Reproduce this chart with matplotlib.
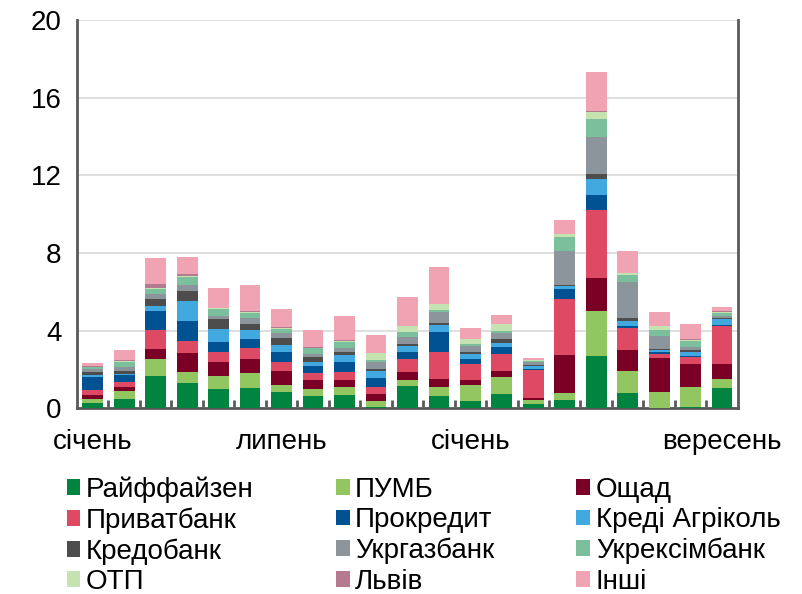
import matplotlib
matplotlib.use("Agg")
import matplotlib.pyplot as plt
import numpy as np

plt.rcParams['font.family'] = ['Liberation Sans', 'DejaVu Sans']

months = ["січень", "", "", "", "", "", "липень", "", "", "", "", "",
          "січень", "", "", "", "", "", "", "", "вересень"]

banks = ["Райффайзен", "ПУМБ", "Ощад", "Приватбанк", "Прокредит", "Креді Агріколь",
         "Кредобанк", "Укргазбанк", "Укрексімбанк", "ОТП", "Львів", "Інші"]

raif      = [0.24, 0.46, 1.66, 1.30, 0.99, 1.05, 0.84, 0.63, 0.67, 0.05, 1.13, 0.63, 0.38, 0.74, 0.21, 0.41, 2.68, 0.79, 0.02, 0.05, 1.03]
pumb      = [0.22, 0.40, 0.86, 0.55, 0.67, 0.75, 0.34, 0.33, 0.41, 0.31, 0.31, 0.47, 0.80, 0.87, 0.19, 0.35, 2.33, 1.13, 0.82, 1.02, 0.45]
oschad    = [0.24, 0.22, 0.55, 0.97, 0.71, 0.72, 0.73, 0.47, 0.35, 0.38, 0.40, 0.38, 0.26, 0.28, 0.11, 1.97, 1.72, 1.07, 1.72, 1.20, 0.79]
privat    = [0.21, 0.26, 0.95, 0.65, 0.51, 0.59, 0.47, 0.39, 0.42, 0.33, 0.67, 1.39, 0.83, 0.88, 1.45, 2.88, 3.47, 1.16, 0.22, 0.34, 1.95]
procredit = [0.70, 0.34, 0.97, 1.01, 0.55, 0.46, 0.52, 0.33, 0.55, 0.49, 0.39, 1.06, 0.24, 0.37, 0.08, 0.52, 0.80, 0.07, 0.10, 0.06, 0.05]
credi     = [0.07, 0.07, 0.26, 1.03, 0.64, 0.48, 0.34, 0.22, 0.35, 0.35, 0.28, 0.34, 0.26, 0.22, 0.12, 0.17, 0.83, 0.26, 0.14, 0.23, 0.30]
kredo     = [0.17, 0.17, 0.35, 0.55, 0.50, 0.29, 0.35, 0.27, 0.12, 0.08, 0.13, 0.14, 0.13, 0.18, 0.05, 0.05, 0.26, 0.14, 0.05, 0.09, 0.05]
ukrgaz    = [0.14, 0.21, 0.27, 0.27, 0.17, 0.28, 0.29, 0.14, 0.24, 0.39, 0.36, 0.55, 0.29, 0.31, 0.16, 1.73, 1.88, 1.88, 0.64, 0.17, 0.12]
ukrexim   = [0.11, 0.27, 0.26, 0.43, 0.37, 0.29, 0.22, 0.31, 0.32, 0.09, 0.26, 0.09, 0.09, 0.13, 0.06, 0.74, 0.95, 0.35, 0.34, 0.31, 0.14]
otp       = [0.03, 0.05, 0.05, 0.03, 0.03, 0.03, 0.03, 0.03, 0.03, 0.35, 0.29, 0.31, 0.27, 0.35, 0.04, 0.14, 0.37, 0.12, 0.17, 0.05, 0.08]
lviv      = [0.05, 0.03, 0.24, 0.14, 0.02, 0.05, 0.03, 0.03, 0.03, 0.03, 0.03, 0.03, 0.03, 0.03, 0.02, 0.03, 0.03, 0.02, 0.02, 0.02, 0.02]
other     = [0.12, 0.50, 1.34, 0.86, 1.02, 1.34, 0.97, 0.87, 1.24, 0.92, 1.48, 1.89, 0.56, 0.46, 0.07, 0.73, 2.03, 1.11, 0.72, 0.77, 0.24]

series = [raif, pumb, oschad, privat, procredit, credi, kredo, ukrgaz, ukrexim, otp, lviv, other]
colors = ["#00843F", "#92C660", "#7A0026", "#DE4A63", "#005293", "#41A8E0",
          "#4D4D4D", "#8C959B", "#7BBF9D", "#C5E2B1", "#B57A90", "#F0A3B3"]

yticks = [0, 4, 8, 12, 16, 20]

fig = plt.figure(figsize=(8.02, 5.94), dpi=100)
ax = fig.add_axes([0.096, 0.313, 0.824, 0.653])

x = np.arange(len(months))
bottom = np.zeros(len(months))
handles = []
for name, vals, c in zip(banks, series, colors):
    v = np.array(vals)
    h = ax.bar(x, v, bottom=bottom, width=0.66, color=c, label=name, zorder=3, linewidth=0)
    handles.append(h)
    bottom += v

ax.set_xlim(-0.5, len(months) - 0.5)
ax.set_ylim(0, 20)
ax.set_yticks(yticks)
ax.set_yticklabels([str(t) for t in yticks], fontsize=20)
ax.tick_params(axis='y', length=0, pad=11)

label_pos = [i for i, m in enumerate(months) if m]
ax.set_xticks(label_pos)
ax.set_xticklabels([months[i] for i in label_pos], fontsize=20)
ax.tick_params(axis='x', which='major', length=0, pad=15)
ax.set_xticks(np.arange(0.5, len(months) - 0.5, 1), minor=True)
ax.tick_params(axis='x', which='minor', direction='in', length=6, width=2, color='#595959')

ax.grid(axis='y', color='#D9D9D9', linewidth=1.2, zorder=0)
for s in ['left', 'right', 'bottom']:
    ax.spines[s].set_color('#595959')
    ax.spines[s].set_linewidth(2)
ax.spines['top'].set_visible(False)

# row-major legend order for 3 columns x 4 rows
ncol, nrow = 3, 4
order = [r * ncol + c for c in range(ncol) for r in range(nrow)]
fig.legend([handles[i] for i in order], [banks[i] for i in order],
           loc='upper left', bbox_to_anchor=(0.083, 0.198), ncol=ncol, frameon=False,
           fontsize=20, handlelength=0.5, handleheight=0.5, handletextpad=0.2,
           columnspacing=2.95, labelspacing=0.16, borderaxespad=0, borderpad=0)

fig.savefig("out.png", dpi=100)
